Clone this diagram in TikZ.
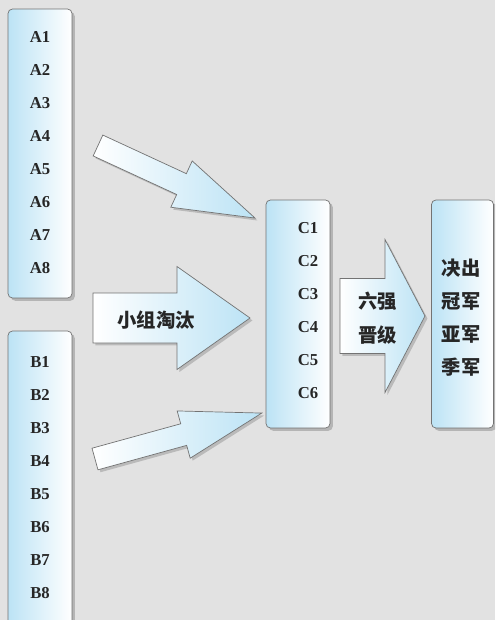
\documentclass[tikz,border=0pt]{standalone}
\usepackage{fontspec}
\setmainfont{Liberation Serif}
\newfontfamily\cjk{Noto Sans CJK SC}
\usetikzlibrary{shadows}
\definecolor{paper}{RGB}{226,226,226}
\definecolor{iceblue}{RGB}{188,227,245}
\definecolor{rimgray}{RGB}{115,115,115}

\tikzset{
  pics/blockarrow/.style n args={4}{code={
    \path[arrowbody] (0,-#2) -- (#1-#4,-#2) -- (#1-#4,-#3) -- (#1,0)
      -- (#1-#4,#3) -- (#1-#4,#2) -- (0,#2) -- cycle;
  }}
}

\begin{document}
\begin{tikzpicture}[x=0.02cm, y=-0.02cm,
    panel/.style={draw=rimgray, line width=0.4pt, rounded corners=2.5pt,
                  left color=iceblue, right color=white, minimum width=1.28cm,
                  drop shadow={shadow xshift=1.6pt, shadow yshift=-1.6pt, opacity=0.45}},
    arrowbody/.style={draw=rimgray, line width=0.4pt, left color=white, right color=iceblue,
                  drop shadow={shadow xshift=1.4pt, shadow yshift=-1.4pt, opacity=0.4}},
    entry/.style={font=\bfseries\fontsize{9.5}{11}\selectfont, text=black!85},
    hanzi/.style={font=\cjk\bfseries\fontsize{11}{12}\selectfont, text=black!85}
  ]
    \clip (0,0) rectangle (495,620);
    \fill[paper] (0,0) rectangle (495,620);

    % panels
    \node[panel, minimum height=5.78cm] (groupA) at (40,153.5) {};
    \node[panel, minimum height=5.94cm] (groupB) at (40,479.5) {};
    \node[panel, minimum height=4.56cm] (six) at (298,314) {};
    \node[panel, minimum width=1.24cm, minimum height=4.56cm] (final) at (462.5,314) {};

    \foreach \k in {1,...,8} {
      \node[entry] (a\k) at (40,{37+33*(\k-1)}) {A\k};
      \node[entry] (b\k) at (40,{362+33*(\k-1)}) {B\k};
    }
    \foreach \k in {1,...,6}
      \node[entry] (c\k) at (308,{228+33*(\k-1)}) {C\k};
    \foreach \t [count=\k] in {决出,冠军,亚军,季军}
      \node[hanzi] (f\k) at (461,{268+33*(\k-1)}) {\t};

    % block arrows
    \pic[rotate=-24.8] at (98,145.5) {blockarrow={173}{11.5}{25.5}{81}};
    \pic at (93,318) {blockarrow={157}{25}{51.5}{73}};
    \pic[rotate=15.4] at (95,459) {blockarrow={173}{11.2}{24.5}{81}};
    \pic at (340,316) {blockarrow={85}{37.5}{76.5}{40}};

    \node[hanzi] (knockout) at (156,320) {小组淘汰};
    \node[hanzi] (topsix) at (378,301) {六强};
    \node[hanzi] (advance) at (378,335) {晋级};
\end{tikzpicture}
\end{document}
